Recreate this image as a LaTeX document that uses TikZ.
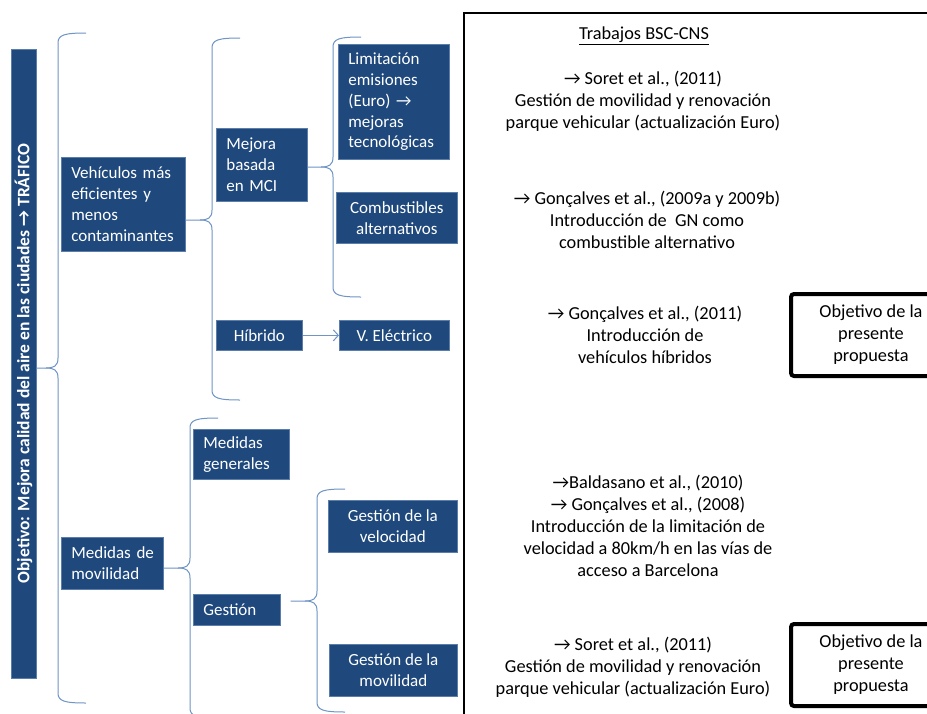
\documentclass[tikz,border=0pt]{standalone}
\usepackage{fontspec}
\setmainfont{Carlito}
\usetikzlibrary{arrows.meta}
\definecolor{boxblue}{HTML}{1F497D}
\definecolor{boxedge}{HTML}{5A7DAA}
\definecolor{bracecol}{HTML}{6F94C6}
\newcommand\rarr{→}
% curly bracket: spine x, top y, tip y, bottom y, parent node anchor
\newcommand\curlybrace[5]{%
  \draw[brc] (#1+28,#2) .. controls (#1+6,#2) and (#1,#2+2) .. (#1,#2+10)
    -- (#1,#3-10) .. controls (#1,#3-2) and (#1-4,#3) .. (#1-12,#3)
    -- (#5 |- #1,#3);
  \draw[brc] (#1-12,#3) .. controls (#1-4,#3) and (#1,#3+2) .. (#1,#3+10)
    -- (#1,#4-10) .. controls (#1,#4-2) and (#1+6,#4) .. (#1+28,#4);
}
\tikzset{
  blk/.style={fill=boxblue, draw=boxedge, line width=0.7pt, text=white,
    inner sep=0pt, anchor=north west, font=\fontsize{17}{20.8}\selectfont},
  blkl/.style={blk, align=left, inner xsep=10pt},
  blkc/.style={blk, align=center},
  brc/.style={draw=bracecol, line width=1pt},
  reftext/.style={font=\fontsize{18.3}{22}\selectfont, align=center, inner sep=0pt},
  goal/.style={reftext, draw=black, line width=4pt, rounded corners=3pt,
    minimum width=160pt, minimum height=82pt},
}
\begin{document}
\begin{tikzpicture}[x=1pt,y=-1pt]
\useasboundingbox (0,0) rectangle (927,713);
\fill[white] (0,0) rectangle (927,713);
\clip (0,0) rectangle (927,713);

% frame holding the list of works
\draw[line width=1.5pt] (464,13) rectangle (1000,760);

% title bar
\node[fill=boxblue, draw=boxedge, line width=0.7pt, text=white, inner sep=0pt,
  rotate=90, minimum width=629pt, minimum height=25pt,
  font=\fontsize{17.5}{21}\selectfont\bfseries] (bar) at (23.5,363.5)
  {Objetivo: Mejora calidad del aire en las ciudades \rarr{} TRÁFICO};

% first level
\node[blkl, minimum width=124pt, minimum height=94pt, text width=104pt] (veh) at (61,157)
  {Vehículos~más\\eficientes~y\\menos\\contaminantes};
\node[blkl, minimum width=102pt, minimum height=52pt, text width=82pt] (mov) at (61,537)
  {Medidas~de\\movilidad};

% second level
\node[blkl, minimum width=91pt, minimum height=73pt, text width=71pt] (mci) at (216,128)
  {Mejora\\basada\\en~MCI};
\node[blkc, minimum width=86pt, minimum height=30pt] (hib) at (216,320) {Híbrido};
\node[blkc, minimum width=110pt, minimum height=30pt] (vel) at (339,320) {V. Eléctrico};
\node[blkl, minimum width=96pt, minimum height=50pt, text width=76pt] (gen) at (193,429)
  {Medidas\\generales};
\node[blkl, minimum width=87pt, minimum height=31pt, text width=67pt] (ges) at (193,594)
  {Gestión};

% third level
\node[blkl, minimum width=111pt, minimum height=115pt, text width=91pt] (lim) at (338,44)
  {Limitación\\emisiones\\(Euro)~\rarr\\mejoras\\tecnológicas};
\node[blkc, minimum width=121pt, minimum height=51pt] (comb) at (336,192)
  {Combustibles\\alternativos};
\node[blkc, minimum width=129pt, minimum height=52pt] (gvel) at (328,500)
  {Gestión de la\\velocidad};
\node[blkc, minimum width=128pt, minimum height=52pt] (gmov) at (329,644)
  {Gestión de la\\movilidad};

% brackets
\curlybrace{58}{33}{368}{703}{bar.south}
\curlybrace{212}{38}{220}{400}{veh.east}
\curlybrace{333}{37}{167}{297}{mci.east}
\curlybrace{190}{418}{568}{718}{mov.east}
\curlybrace{317}{489}{601}{712}{[xshift=10pt]ges.east}

\draw[brc, -{Straight Barb[length=5pt,width=11pt]}] (hib) -- (vel);

% works of the group
\node[reftext] (head) at (644,36) {\underline{Trabajos BSC-CNS}};
\node[reftext] (w1) at (643,101)
  {\rarr{} Soret et al., (2011)\\Gestión de movilidad y renovación\\parque vehicular (actualización Euro)};
\node[reftext] (w2) at (647,220)
  {\rarr{} Gonçalves et al., (2009a y 2009b)\\Introducción de \ GN como\\combustible alternativo};
\node[reftext] (w3) at (645,335)
  {\rarr{} Gonçalves et al., (2011)\\Introducción de\\vehículos híbridos};
\node[reftext] (w4) at (648,526)
  {\rarr{}Baldasano et al., (2010)\\\rarr{} Gonçalves et al., (2008)\\Introducción de la limitación de\\velocidad a 80km/h en las vías de\\acceso a Barcelona};
\node[reftext] (w5) at (633,667)
  {\rarr{} Soret et al., (2011)\\Gestión de movilidad y renovación\\parque vehicular (actualización Euro)};

% goals of the proposal
\node[goal] (g1) at (871,335) {Objetivo de la\\presente\\propuesta};
\node[goal] (g2) at (871,665) {Objetivo de la\\presente\\propuesta};
\end{tikzpicture}
\end{document}
